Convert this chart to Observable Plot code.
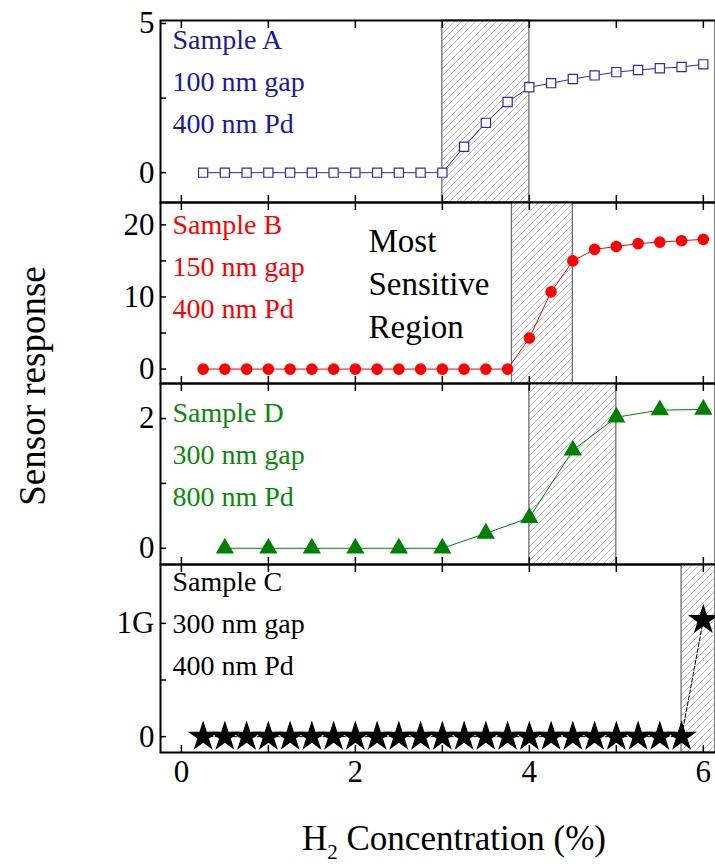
<!DOCTYPE html>
<html>
<head>
<meta charset="utf-8">
<script src="https://cdn.jsdelivr.net/npm/d3@7"></script>
<script src="https://cdn.jsdelivr.net/npm/@observablehq/plot@0.6"></script>
<style>
  body { margin: 0; background: white; }
  #wrap { position: relative; width: 715px; height: 867px; overflow: hidden; background: white; font-family: "Liberation Serif", serif; }
  .panel { position: absolute; left: 0; }
  .panel svg { overflow: visible; }
  #ylab { position: absolute; left: 32px; top: 386px; transform: translate(-50%, -50%) rotate(-90deg); font-size: 37px; white-space: nowrap; color: #000; }
  #xlab { position: absolute; left: 454px; top: 842px; transform: translate(-50%, -50%); font-size: 35px; white-space: nowrap; color: #000; }
  #xlab sub { font-size: 21px; vertical-align: -9px; }
</style>
</head>
<body>
<div id="wrap">
  <svg width="0" height="0" style="position:absolute">
    <defs>
      <pattern id="hatch" patternUnits="userSpaceOnUse" width="7" height="7">
        <rect width="7" height="7" fill="white"></rect>
        <path d="M-1,1 l2,-2 M0,7 l7,-7 M6,8 l2,-2" stroke="#bdbdbd" stroke-width="1"></path>
      </pattern>
    </defs>
  </svg>
  <div id="ylab">Sensor response</div>
  <div id="xlab">H<sub>2</sub> Concentration (%)</div>
</div>
<script>
// ---- data ----
const concA = [0.25,0.5,0.75,1.0,1.25,1.5,1.75,2.0,2.25,2.5,2.75,3.0,3.25,3.5,3.75,4.0,4.25,4.5,4.75,5.0,5.25,5.5,5.75,6.0];
const respA = [0,0,0,0,0,0,0,0,0,0,0,0,0.87,1.67,2.37,2.86,3.0,3.14,3.26,3.37,3.44,3.5,3.54,3.63];
const concB = [0.25,0.5,0.75,1.0,1.25,1.5,1.75,2.0,2.25,2.5,2.75,3.0,3.25,3.5,3.75,4.0,4.25,4.5,4.75,5.0,5.25,5.5,5.75,6.0];
const respB = [0,0,0,0,0,0,0,0,0,0,0,0,0,0,0,4.3,10.7,15.0,16.6,17.0,17.4,17.6,17.8,18.0];
const concD = [0.5,1.0,1.5,2.0,2.5,3.0,3.5,4.0,4.5,5.0,5.5,6.0];
const respD = [0,0,0,0,0,0,0.23,0.47,1.51,2.02,2.13,2.14];
const concC = [0.25,0.5,0.75,1.0,1.25,1.5,1.75,2.0,2.25,2.5,2.75,3.0,3.25,3.5,3.75,4.0,4.25,4.5,4.75,5.0,5.25,5.5,5.75,6.0];
const respC = [0,0,0,0,0,0,0,0,0,0,0,0,0,0,0,0,0,0,0,0,0,0,0,1.03]; // in units of G

const regionA = [3.0, 4.0];
const regionB = [3.8, 4.5];
const regionD = [4.0, 5.0];
const regionC = [5.75, 6.3];

const labelsA = ["Sample A", "100 nm gap", "400 nm Pd"];
const labelsB = ["Sample B", "150 nm gap", "400 nm Pd"];
const labelsD = ["Sample D", "300 nm gap", "800 nm Pd"];
const labelsC = ["Sample C", "300 nm gap", "400 nm Pd"];
const annotation = ["Most", "Sensitive", "Region"];

const xTicks = [0, 1, 2, 3, 4, 5, 6];
const xDomain = [-0.24, 6.14];

const ticksA = [0, 2.5, 5];
const ticksB = [0, 5, 10, 15, 20];
const ticksD = [0, 1, 2];
const ticksC = [0, 0.5, 1];

const FONT = "Liberation Serif";
const wrap = document.getElementById("wrap");

function zip(xs, ys) { return xs.map((x, i) => ({x, y: ys[i]})); }

function panel(opts) {
  const {data, region, yDomain, yTicks, yFormat, lineColor, symbol, r, fill, stroke,
         labels, labelColor, top, height, marginTop = 0, marginBottom = 0, bottomLabels = false,
         extra = [], lineDash, labelDy = 0} = opts;
  const marks = [
    Plot.rect([region], {x1: d => d[0], x2: d => d[1], fill: "url(#hatch)", stroke: "#6e6e6e", strokeWidth: 1.3}),
    Plot.line(data, {x: "x", y: "y", stroke: lineColor, strokeWidth: 1, strokeDasharray: lineDash}),
    Plot.dot(data, {x: "x", y: "y", symbol, r, fill, stroke, strokeWidth: 1.2}),
    Plot.text([labels.join("\n")], {text: d => d, frameAnchor: "top-left", dx: 12, dy: labelDy, lineAnchor: "top",
      lineHeight: 1.5, fontSize: 28, fill: labelColor, fontFamily: FONT, textAnchor: "start"}),
    ...extra,
    Plot.axisX({anchor: "top", label: null, ticks: xTicks, tickSize: -7, tickFormat: () => "", strokeWidth: 1.5}),
    Plot.axisX({anchor: "bottom", label: null, ticks: xTicks, tickSize: -7, strokeWidth: 1.5,
      tickFormat: bottomLabels ? (d => d % 2 === 0 ? String(d) : "") : (() => ""),
      tickPadding: 14, fontSize: 31, fontFamily: FONT}),
    Plot.axisY({anchor: "left", label: null, ticks: yTicks, tickSize: -6, tickFormat: yFormat, tickPadding: 12,
      fontSize: 31, fontFamily: FONT, strokeWidth: 1.5}),
    Plot.frame({stroke: "black", strokeWidth: 2})
  ];
  const chart = Plot.plot({
    width: 715, height: height + marginTop + marginBottom,
    marginLeft: 160, marginRight: 0, marginTop, marginBottom,
    style: {fontFamily: FONT, fontSize: "31px", background: "transparent", color: "black", overflow: "visible"},
    x: {domain: xDomain},
    y: {domain: yDomain},
    marks
  });
  const div = document.createElement("div");
  div.className = "panel";
  div.style.top = (top - marginTop) + "px";
  div.appendChild(chart);
  wrap.appendChild(div);
}

panel({
  data: zip(concA, respA), region: regionA, yDomain: [-1, 5.1], yTicks: ticksA,
  yFormat: d => d === 2.5 ? "" : String(d),
  lineColor: "#2a2ab4", symbol: "square", r: 5.2, fill: "white", stroke: "#2a2ab4",
  labels: labelsA, labelColor: "#1a1a9a", top: 20, height: 182, marginTop: 20, labelDy: -1
});

panel({
  data: zip(concB, respB), region: regionB, yDomain: [-2, 23.1], yTicks: ticksB,
  yFormat: d => d % 10 === 0 ? String(d) : "",
  lineColor: "#ff0000", symbol: "circle", r: 5.2, fill: "#ff0000", stroke: "#ff0000",
  labels: labelsB, labelColor: "#ff0000", top: 202, height: 181, labelDy: 2,
  extra: [Plot.text([annotation.join("\n")], {text: d => d, frameAnchor: "top-left", dx: 208, dy: 19,
    lineAnchor: "top", lineHeight: 1.3, fontSize: 33, fill: "black", fontFamily: FONT, textAnchor: "start"})]
});

panel({
  data: zip(concD, respD), region: regionD, yDomain: [-0.25, 2.54], yTicks: ticksD,
  yFormat: d => d === 1 ? "" : String(d),
  lineColor: "#008000", symbol: "triangle", r: 6, fill: "#008000", stroke: "#008000",
  labels: labelsD, labelColor: "#0a880a", top: 383, height: 181, labelDy: 9
});

panel({
  data: zip(concC, respC), region: regionC, yDomain: [-0.14, 1.52], yTicks: ticksC,
  yFormat: d => d === 1 ? "1G" : d === 0 ? "0" : "",
  lineColor: "black", lineDash: "4,2", symbol: "star", r: 8.5, fill: "black", stroke: "black",
  labels: labelsC, labelColor: "black", top: 564, height: 188, marginBottom: 50, bottomLabels: true, labelDy: -3
});
</script>
</body>
</html>
